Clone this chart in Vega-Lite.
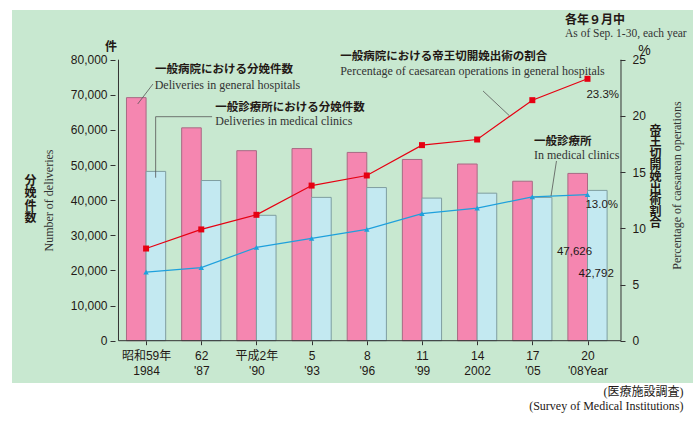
{
  "$schema": "https://vega.github.io/schema/vega-lite/v6.json",
  "width": 681,
  "height": 373,
  "autosize": {"type": "none"},
  "padding": {"left": 12, "top": 10, "right": 7, "bottom": 38},
  "background": "#ffffff",
  "config": {
    "view": {"fill": "#c8e8d0", "stroke": null},
    "axis": {"grid": false, "domain": false, "labelFont": "Liberation Sans", "labelFontSize": 12, "labelColor": "#231815", "tickColor": "#333333", "titleFontWeight": "normal", "titleColor": "#231815"}
  },
  "title": {
    "text": "各年９月中",
    "subtitle": "As of Sep. 1-30, each year",
    "anchor": "start",
    "frame": "group",
    "dx": 553,
    "offset": -30,
    "font": "Noto Sans CJK JP",
    "fontSize": 12,
    "fontWeight": "bold",
    "color": "#231815",
    "subtitleFont": "Liberation Serif",
    "subtitleFontSize": 11.5,
    "subtitleColor": "#333333",
    "subtitlePadding": 1
  },
  "datasets": {
    "main": [
      {"year": 1984, "hosp": 69200, "clinic": 48200, "pctHosp": 8.2, "pctClinic": 6.1},
      {"year": 1987, "hosp": 60600, "clinic": 45600, "pctHosp": 9.9, "pctClinic": 6.5},
      {"year": 1990, "hosp": 54100, "clinic": 35700, "pctHosp": 11.2, "pctClinic": 8.3},
      {"year": 1993, "hosp": 54700, "clinic": 40800, "pctHosp": 13.8, "pctClinic": 9.1},
      {"year": 1996, "hosp": 53600, "clinic": 43600, "pctHosp": 14.7, "pctClinic": 9.9},
      {"year": 1999, "hosp": 51600, "clinic": 40600, "pctHosp": 17.4, "pctClinic": 11.3},
      {"year": 2002, "hosp": 50300, "clinic": 42000, "pctHosp": 17.9, "pctClinic": 11.8},
      {"year": 2005, "hosp": 45400, "clinic": 40800, "pctHosp": 21.4, "pctClinic": 12.8},
      {"year": 2008, "hosp": 47626, "clinic": 42792, "pctHosp": 23.3, "pctClinic": 13.0}
    ],
    "jpNotes": [
      {"year": 1984.482, "v": 77068, "t": "一般病院における分娩件数"},
      {"year": 1987.766, "v": 66391, "t": "一般診療所における分娩件数"},
      {"year": 1994.554, "v": 80854, "t": "一般病院における帝王切開娩出術の割合"},
      {"year": 2005.091, "v": 56655, "t": "一般診療所"}
    ],
    "enNotes": [
      {"year": 1984.466, "v": 72797, "t": "Deliveries in general hospitals"},
      {"year": 1987.766, "v": 62491, "t": "Deliveries in medical clinics"},
      {"year": 1994.554, "v": 76697, "t": "Percentage of caesarean operations in general hospitals"},
      {"year": 2005.091, "v": 52726, "t": "In medical clinics"}
    ],
    "numNotes": [
      {"year": 2009.714, "v": 69808, "t": "23.3%"},
      {"year": 2009.66, "v": 38548, "t": "13.0%"},
      {"year": 2008.252, "v": 25196, "t": "47,626"},
      {"year": 2009.43, "v": 18847, "t": "42,792"}
    ],
    "leaders": [
      {"year": 1983.545, "year2": 1984.375, "v": 67388, "v2": 73082},
      {"year": 1984.52, "year2": 1984.52, "v": 46406, "v2": 63772},
      {"year": 1984.52, "year2": 1987.589, "v": 63772, "v2": 63772},
      {"year": 2002.321, "year2": 2003.752, "v": 71089, "v2": 64057},
      {"year": 2006.313, "year2": 2006.018, "v": 51160, "v2": 41196}
    ],
    "one": [{}]
  },
  "layer": [
    {
      "data": {"name": "main"},
      "mark": {"type": "bar", "orient": "vertical", "size": 19.6, "xOffset": -9.8, "fill": "#f586b0", "stroke": "#a86a84", "strokeWidth": 1},
      "encoding": {
        "x": {
          "field": "year", "type": "quantitative",
          "scale": {"domain": [1976.982, 2013.464], "nice": false, "zero": false},
          "axis": {
            "orient": "bottom", "offset": -42.3,
            "values": [1984, 1987, 1990, 1993, 1996, 1999, 2002, 2005, 2008],
            "tickSize": 4, "tickWidth": 1,
            "labelPadding": 6, "labelLineHeight": 15, "labelBaseline": "top",
            "labelFont": "Liberation Sans, Noto Sans CJK JP",
            "labelOverlap": false,
            "labelExpr": "datum.value == 1984 ? ['昭和59年', '1984'] : datum.value == 1987 ? ['62', \"'87\"] : datum.value == 1990 ? ['平成2年', \"'90\"] : datum.value == 1993 ? ['5', \"'93\"] : datum.value == 1996 ? ['8', \"'96\"] : datum.value == 1999 ? ['11', \"'99\"] : datum.value == 2002 ? ['14', '2002'] : datum.value == 2005 ? ['17', \"'05\"] : ['20\u00a0\u00a0\u00a0', \"\u00a0\u00a0\u00a0\u00a0'08Year\"]",
            "title": ["(医療施設調査)", "(Survey of Medical Institutions)"],
            "titleFont": "Liberation Serif, Noto Sans CJK JP",
            "titleFontSize": 12,
            "titleColor": "#231815",
            "titleAlign": "right",
            "titleBaseline": "top",
            "titleLineHeight": 14,
            "titleX": 671,
            "titleY": 46
          }
        },
        "y": {
          "field": "hosp", "type": "quantitative",
          "scale": {"domain": [-12043, 94149], "nice": false, "zero": false},
          "axis": {
            "orient": "left", "offset": -103,
            "values": [0, 10000, 20000, 30000, 40000, 50000, 60000, 70000, 80000],
            "format": ",d", "tickSize": 5, "labelPadding": 3,
            "title": "Number of deliveries",
            "titleFont": "Liberation Serif", "titleFontSize": 12, "titleColor": "#333333",
            "titleAngle": 270, "titleAlign": "center", "titleBaseline": "middle",
            "titleX": -67, "titleY": 190
          }
        },
        "y2": {"datum": 0}
      }
    },
    {
      "data": {"name": "main"},
      "mark": {"type": "bar", "orient": "vertical", "size": 19.6, "xOffset": 9.8, "fill": "#c3e9f1", "stroke": "#7f9ea0", "strokeWidth": 1},
      "encoding": {
        "x": {"field": "year", "type": "quantitative", "scale": {"domain": [1976.982, 2013.464], "nice": false, "zero": false}},
        "y": {
          "field": "clinic", "type": "quantitative",
          "scale": {"domain": [-12043, 94149], "nice": false, "zero": false},
          "axis": {
            "orient": "left", "offset": -103, "labels": false, "ticks": false,
            "title": ["分", "娩", "件", "数"],
            "titleFont": "Noto Sans CJK JP", "titleFontSize": 12, "titleFontWeight": "bold",
            "titleAngle": 0, "titleAlign": "center", "titleBaseline": "top", "titleLineHeight": 12.5,
            "titleX": -85, "titleY": 165
          }
        },
        "y2": {"datum": 0}
      }
    },
    {
      "data": {"name": "one"},
      "mark": {"type": "rule", "color": "#333333", "strokeWidth": 1},
      "encoding": {
        "x": {"datum": 1982.5, "type": "quantitative", "scale": {"domain": [1976.982, 2013.464], "nice": false, "zero": false}},
        "y": {"datum": 0, "type": "quantitative", "scale": {"domain": [-12043, 94149], "nice": false, "zero": false}, "axis": null},
        "y2": {"datum": 80000}
      }
    },
    {
      "data": {"name": "one"},
      "mark": {"type": "rule", "color": "#333333", "strokeWidth": 1},
      "encoding": {
        "x": {"datum": 2009.821, "type": "quantitative", "scale": {"domain": [1976.982, 2013.464], "nice": false, "zero": false}},
        "y": {"datum": 0, "type": "quantitative", "scale": {"domain": [-12043, 94149], "nice": false, "zero": false}, "axis": null},
        "y2": {"datum": 80000}
      }
    },
    {
      "data": {"name": "one"},
      "mark": {"type": "rule", "color": "#333333", "strokeWidth": 1},
      "encoding": {
        "x": {"datum": 1982.5, "type": "quantitative", "scale": {"domain": [1976.982, 2013.464], "nice": false, "zero": false}},
        "x2": {"datum": 2009.821},
        "y": {"datum": 0, "type": "quantitative", "scale": {"domain": [-12043, 94149], "nice": false, "zero": false}, "axis": null}
      }
    },
    {
      "data": {"name": "main"},
      "mark": {"type": "line", "color": "#e60012", "strokeWidth": 1.2, "point": {"shape": "square", "size": 36, "filled": true, "color": "#e60012", "opacity": 1}},
      "encoding": {
        "x": {"field": "year", "type": "quantitative", "scale": {"domain": [1976.982, 2013.464], "nice": false, "zero": false}},
        "y": {
          "field": "pctHosp", "type": "quantitative",
          "scale": {"domain": [-3.763, 29.422], "nice": false, "zero": false},
          "axis": {
            "orient": "right", "offset": -68,
            "values": [0, 5, 10, 15, 20, 25],
            "tickSize": -5, "labelPadding": 12,
            "title": "Percentage of caesarean operations",
            "titleFont": "Liberation Serif", "titleFontSize": 12, "titleColor": "#333333",
            "titleAngle": 270, "titleAlign": "center", "titleBaseline": "middle",
            "titleX": 51, "titleY": 175
          }
        }
      }
    },
    {
      "data": {"name": "main"},
      "mark": {"type": "line", "color": "#1ea0dc", "strokeWidth": 1.2, "point": {"shape": "triangle-up", "size": 30, "filled": true, "color": "#1ea0dc", "opacity": 1}},
      "encoding": {
        "x": {"field": "year", "type": "quantitative", "scale": {"domain": [1976.982, 2013.464], "nice": false, "zero": false}},
        "y": {
          "field": "pctClinic", "type": "quantitative",
          "scale": {"domain": [-3.763, 29.422], "nice": false, "zero": false},
          "axis": {
            "orient": "right", "offset": -68, "labels": false, "ticks": false,
            "title": ["帝", "王", "切", "開", "娩", "出", "術", "割", "合"],
            "titleFont": "Noto Sans CJK JP", "titleFontSize": 12, "titleFontWeight": "bold",
            "titleAngle": 0, "titleAlign": "center", "titleBaseline": "top", "titleLineHeight": 11.6,
            "titleX": 30, "titleY": 115
          }
        }
      }
    },
    {
      "data": {"name": "leaders"},
      "mark": {"type": "rule", "color": "#555555", "strokeWidth": 0.8},
      "encoding": {
        "x": {"field": "year", "type": "quantitative", "scale": {"domain": [1976.982, 2013.464], "nice": false, "zero": false}},
        "x2": {"field": "year2"},
        "y": {"field": "v", "type": "quantitative", "scale": {"domain": [-12043, 94149], "nice": false, "zero": false}, "axis": null},
        "y2": {"field": "v2"}
      }
    },
    {
      "data": {"name": "jpNotes"},
      "mark": {"type": "text", "align": "left", "baseline": "middle", "font": "Noto Sans CJK JP", "fontSize": 11.5, "fontWeight": "bold", "color": "#231815"},
      "encoding": {
        "x": {"field": "year", "type": "quantitative", "scale": {"domain": [1976.982, 2013.464], "nice": false, "zero": false}},
        "y": {
          "field": "v", "type": "quantitative",
          "scale": {"domain": [-12043, 94149], "nice": false, "zero": false},
          "axis": {
            "orient": "left", "offset": -103, "labels": false, "ticks": false,
            "title": "件",
            "titleFont": "Noto Sans CJK JP", "titleFontSize": 12, "titleFontWeight": "bold",
            "titleAngle": 0, "titleAlign": "center", "titleBaseline": "middle",
            "titleX": -4.5, "titleY": 36
          }
        },
        "text": {"field": "t"}
      }
    },
    {
      "data": {"name": "enNotes"},
      "mark": {"type": "text", "align": "left", "baseline": "middle", "font": "Liberation Serif", "fontSize": 12, "color": "#333333"},
      "encoding": {
        "x": {"field": "year", "type": "quantitative", "scale": {"domain": [1976.982, 2013.464], "nice": false, "zero": false}},
        "y": {
          "field": "v", "type": "quantitative",
          "scale": {"domain": [-12043, 94149], "nice": false, "zero": false},
          "axis": {
            "orient": "right", "offset": -68, "labels": false, "ticks": false,
            "title": "%",
            "titleFont": "Liberation Sans", "titleFontSize": 14,
            "titleAngle": 0, "titleAlign": "center", "titleBaseline": "middle",
            "titleX": 19, "titleY": 40
          }
        },
        "text": {"field": "t"}
      }
    },
    {
      "data": {"name": "numNotes"},
      "mark": {"type": "text", "align": "right", "baseline": "middle", "font": "Liberation Sans", "fontSize": 11.5, "color": "#231815"},
      "encoding": {
        "x": {"field": "year", "type": "quantitative", "scale": {"domain": [1976.982, 2013.464], "nice": false, "zero": false}},
        "y": {"field": "v", "type": "quantitative", "scale": {"domain": [-12043, 94149], "nice": false, "zero": false}, "axis": null},
        "text": {"field": "t"}
      }
    }
  ],
  "resolve": {"scale": {"y": "independent"}, "axis": {"y": "independent"}}
}
